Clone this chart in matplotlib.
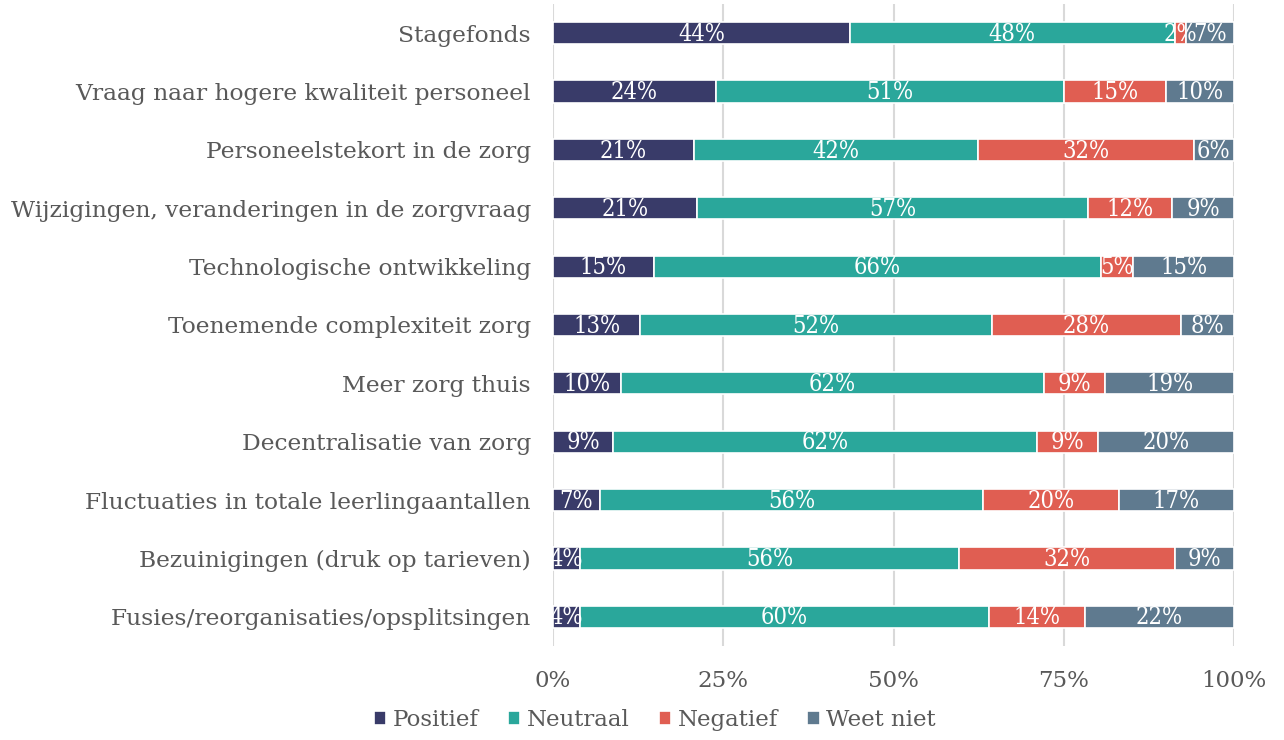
import numpy as np
import matplotlib.pyplot as plt

categories = [
    "Stagefonds",
    "Vraag naar hogere kwaliteit personeel",
    "Personeelstekort in de zorg",
    "Wijzigingen, veranderingen in de zorgvraag",
    "Technologische ontwikkeling",
    "Toenemende complexiteit zorg",
    "Meer zorg thuis",
    "Decentralisatie van zorg",
    "Fluctuaties in totale leerlingaantallen",
    "Bezuinigingen (druk op tarieven)",
    "Fusies/reorganisaties/opsplitsingen",
]
positief = [43.6, 23.9, 20.7, 21.2, 14.8, 12.8, 10.0, 8.8, 6.9, 4.0, 4.0]
neutraal = [47.7, 51.1, 41.7, 57.4, 65.6, 51.6, 62.1, 62.3, 56.2, 55.6, 60.0]
negatief = [1.7, 15.0, 31.7, 12.3, 4.8, 27.8, 9.0, 8.9, 20.0, 31.7, 14.1]
weet_niet = [7.0, 10.0, 5.9, 9.1, 14.8, 7.8, 18.9, 20.0, 16.9, 8.7, 21.9]

series = [
    ("Positief", positief, "#393b69"),
    ("Neutraal", neutraal, "#2aa79b"),
    ("Negatief", negatief, "#e05e52"),
    ("Weet niet", weet_niet, "#5f7a8f"),
]
xticks = [0, 25, 50, 75, 100]

plt.rcParams["font.family"] = ["DejaVu Serif"]
text_grey = "#595959"

fig = plt.figure(figsize=(12.84, 7.40), dpi=100)
ax = fig.add_axes([553 / 1284, 1 - 646 / 740, 681 / 1284, 642 / 740])

y = np.arange(len(categories))
left = np.zeros(len(categories))
for name, vals, color in series:
    vals = np.array(vals)
    ax.barh(y, vals, left=left, height=0.38, color=color,
            edgecolor="white", linewidth=1.2, label=name, zorder=3)
    for yi, v, l in zip(y, vals, left):
        ax.text(l + v / 2, yi + 0.02, f"{round(v):d}%", ha="center", va="center",
                color="white", fontsize=17, fontstretch="condensed", zorder=4)
    left += vals

ax.set_xlim(0, 100)
ax.set_ylim(len(categories) - 0.5, -0.5)
ax.set_yticks(y)
ax.set_yticklabels(categories, fontsize=16.8, color=text_grey)
ax.set_xticks(xticks)
ax.set_xticklabels([f"{t}%" for t in xticks], fontsize=16.5, color=text_grey)
ax.tick_params(length=0)
ax.tick_params(axis="x", pad=17)
ax.tick_params(axis="y", pad=16)
ax.grid(axis="x", color="#d9d9d9", linewidth=1.5, zorder=0)
for s in ax.spines.values():
    s.set_visible(False)

ax.legend(loc="center", bbox_to_anchor=(0.51, 0.027), bbox_transform=fig.transFigure,
          ncol=4, frameon=False, fontsize=16.5, labelcolor=text_grey,
          handlelength=0.55, handleheight=0.55, handletextpad=0.3, columnspacing=1.25)

fig.savefig("out.png", dpi=100)
